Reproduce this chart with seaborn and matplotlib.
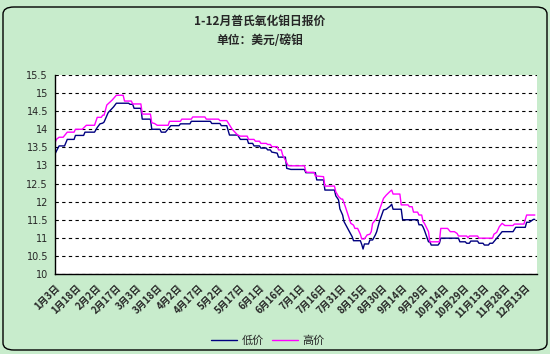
import matplotlib
matplotlib.use("Agg")
import matplotlib.pyplot as plt
from matplotlib.patches import FancyBboxPatch
import numpy as np
import pandas as pd
import seaborn as sns

# days counted from 1月3日 (2008), prices in USD/lb Mo
low_days = [0, 3, 7, 9, 14, 15, 21, 22, 29, 31, 33, 35, 36, 39, 43, 45, 54, 55, 57, 58,
            63, 64, 70, 71, 77, 78, 81, 85, 91, 92, 99, 100, 114, 115, 121, 122, 126, 128,
            134, 136, 141, 142, 145, 146, 150, 151, 155, 156, 158, 159, 163, 164, 169, 170,
            173, 183, 184, 191, 192, 197, 198, 205, 206, 208, 209, 211, 212, 214, 216, 218,
            219, 224, 225, 226, 227, 230, 231, 233, 235, 236, 238, 241, 243, 246, 247, 248,
            254, 255, 266, 267, 269, 270, 271, 274, 275, 276, 281, 282, 283, 296, 297, 301,
            302, 304, 305, 310, 311, 314, 315, 318, 319, 321, 323, 325, 328, 336, 338, 345,
            346, 348, 351, 352]
low_vals = [13.32, 13.54, 13.54, 13.72, 13.72, 13.83, 13.83, 13.92, 13.92, 14.05, 14.15, 14.17,
            14.20, 14.46, 14.62, 14.72, 14.72, 14.69, 14.69, 14.58, 14.58, 14.28, 14.28, 14.00,
            14.00, 13.92, 13.92, 14.10, 14.10, 14.15, 14.15, 14.22, 14.22, 14.16, 14.16, 14.10,
            14.10, 13.84, 13.84, 13.72, 13.72, 13.61, 13.61, 13.54, 13.54, 13.48, 13.48, 13.43,
            13.43, 13.37, 13.34, 13.23, 13.23, 12.92, 12.89, 12.89, 12.80, 12.80, 12.60, 12.60,
            12.32, 12.32, 12.16, 12.05, 11.80, 11.63, 11.45, 11.31, 11.17, 11.03, 10.92, 10.92,
            10.82, 10.69, 10.83, 10.83, 10.94, 10.94, 11.08, 11.17, 11.45, 11.77, 11.79, 11.88,
            11.93, 11.79, 11.79, 11.50, 11.50, 11.36, 11.36, 11.30, 11.21, 10.89, 10.89, 10.80,
            10.80, 10.85, 10.99, 10.99, 10.89, 10.89, 10.85, 10.85, 10.91, 10.91, 10.85, 10.85,
            10.80, 10.80, 10.85, 10.85, 10.94, 11.03, 11.17, 11.17, 11.29, 11.29, 11.43, 11.43,
            11.51, 11.51]

high_days = [0, 1, 3, 6, 9, 14, 15, 20, 23, 29, 31, 34, 35, 36, 38, 42, 45, 50, 51, 56,
             57, 63, 64, 70, 71, 73, 75, 83, 84, 92, 93, 100, 101, 110, 111, 120, 121, 126,
             130, 134, 136, 141, 142, 146, 147, 150, 151, 155, 156, 158, 159, 163, 164, 166,
             167, 171, 172, 183, 184, 185, 190, 191, 197, 198, 205, 206, 208, 210, 211, 213,
             215, 217, 219, 220, 222, 224, 225, 227, 229, 231, 232, 233, 236, 238, 241, 243,
             246, 247, 248, 253, 254, 259, 260, 262, 263, 266, 267, 269, 270, 271, 274, 275,
             282, 283, 288, 290, 293, 295, 296, 302, 303, 304, 310, 311, 321, 322, 324, 326,
             328, 330, 336, 337, 344, 346, 352]
high_vals = [13.63, 13.72, 13.78, 13.78, 13.92, 13.92, 14.00, 14.00, 14.11, 14.11, 14.33, 14.33,
             14.39, 14.39, 14.67, 14.81, 14.94, 14.94, 14.78, 14.78, 14.70, 14.70, 14.42, 14.42,
             14.18, 14.16, 14.11, 14.11, 14.22, 14.22, 14.28, 14.28, 14.34, 14.34, 14.28, 14.28,
             14.24, 14.24, 14.00, 13.84, 13.81, 13.81, 13.72, 13.72, 13.67, 13.67, 13.61, 13.61,
             13.58, 13.58, 13.52, 13.52, 13.43, 13.43, 13.29, 13.00, 12.99, 12.99, 12.83, 12.81,
             12.81, 12.71, 12.69, 12.43, 12.43, 12.27, 12.14, 12.07, 12.07, 11.86, 11.63, 11.40,
             11.35, 11.26, 11.26, 11.10, 10.97, 10.97, 11.08, 11.10, 11.17, 11.40, 11.54, 11.77,
             12.09, 12.18, 12.29, 12.32, 12.21, 12.21, 11.91, 11.91, 11.86, 11.86, 11.71, 11.71,
             11.63, 11.63, 11.45, 11.40, 11.17, 10.89, 10.89, 11.26, 11.26, 11.17, 11.17, 11.12,
             11.05, 11.05, 11.00, 11.05, 11.05, 10.99, 10.99, 11.10, 11.15, 11.31, 11.40, 11.34,
             11.34, 11.38, 11.38, 11.63, 11.63]

tick_labels = ["1月3日", "1月18日", "2月2日", "2月17日", "3月3日", "3月18日", "4月2日",
               "4月17日", "5月2日", "5月17日", "6月1日", "6月16日", "7月1日", "7月16日",
               "7月31日", "8月15日", "8月30日", "9月14日", "9月29日", "10月14日",
               "10月29日", "11月13日", "11月28日", "12月13日"]
tick_step = 15

sns.set_style("white")
plt.rcParams['font.family'] = ['Noto Sans CJK SC', 'DejaVu Sans']
bg = '#C8ECCC'

fig = plt.figure(figsize=(5.5, 3.54), dpi=100, facecolor=bg)
fig.patches.append(FancyBboxPatch((3 / 550, 4 / 354), 544 / 550, 343 / 354,
                                  boxstyle="round,pad=0,rounding_size=0.02",
                                  transform=fig.transFigure, facecolor=bg,
                                  edgecolor='black', linewidth=1.0, zorder=-10))
ax = fig.add_axes([55 / 550, 1 - 274 / 354, 482 / 550, 199 / 354])
ax.set_zorder(5)
ax.set_facecolor('white')

sns.lineplot(x=low_days, y=low_vals, ax=ax, color='#000080', linewidth=1.0,
             estimator=None, sort=False, label='低价')
sns.lineplot(x=high_days, y=high_vals, ax=ax, color='#FF00FF', linewidth=1.0,
             estimator=None, sort=False, label='高价')

ax.set_xlim(0, 353.6)
ax.set_ylim(10, 15.5)
yt = np.arange(10, 15.51, 0.5)
ax.set_yticks(yt)
ax.set_yticklabels(['%g' % v for v in yt], fontsize=7, family='DejaVu Sans')
ax.set_xticks(np.arange(len(tick_labels)) * tick_step)
ax.set_xticklabels(tick_labels, rotation=45, ha='right', va='top',
                   rotation_mode='anchor', fontsize=7, fontweight='bold')
ax.tick_params(axis='x', direction='out', length=3, width=0.8, color='black', pad=3)
ax.tick_params(axis='y', length=0, pad=5)
ax.yaxis.grid(True, color='black', linestyle=(0, (3, 3)), linewidth=0.8)
ax.set_xlabel('')
ax.set_ylabel('')
for s in ['top', 'right']:
    ax.spines[s].set_visible(False)
for s in ['left', 'bottom']:
    ax.spines[s].set_color('black')
    ax.spines[s].set_linewidth(1.0)

ax.legend(loc='center', bbox_to_anchor=(268 / 550, 1 - 341 / 354), bbox_transform=fig.transFigure,
          ncol=2, frameon=False, fontsize=8, handlelength=2.3, columnspacing=0.8,
          handletextpad=0.4)

fig.text(260 / 550, 1 - 21 / 354, '1-12月普氏氧化钼日报价', ha='center', va='center',
         fontsize=8.5, fontweight='bold')
fig.text(260 / 550, 1 - 40 / 354, '单位：美元/磅钼', ha='center', va='center',
         fontsize=8.5, fontweight='bold')

fig.savefig('out.png', dpi=100, facecolor=bg)
